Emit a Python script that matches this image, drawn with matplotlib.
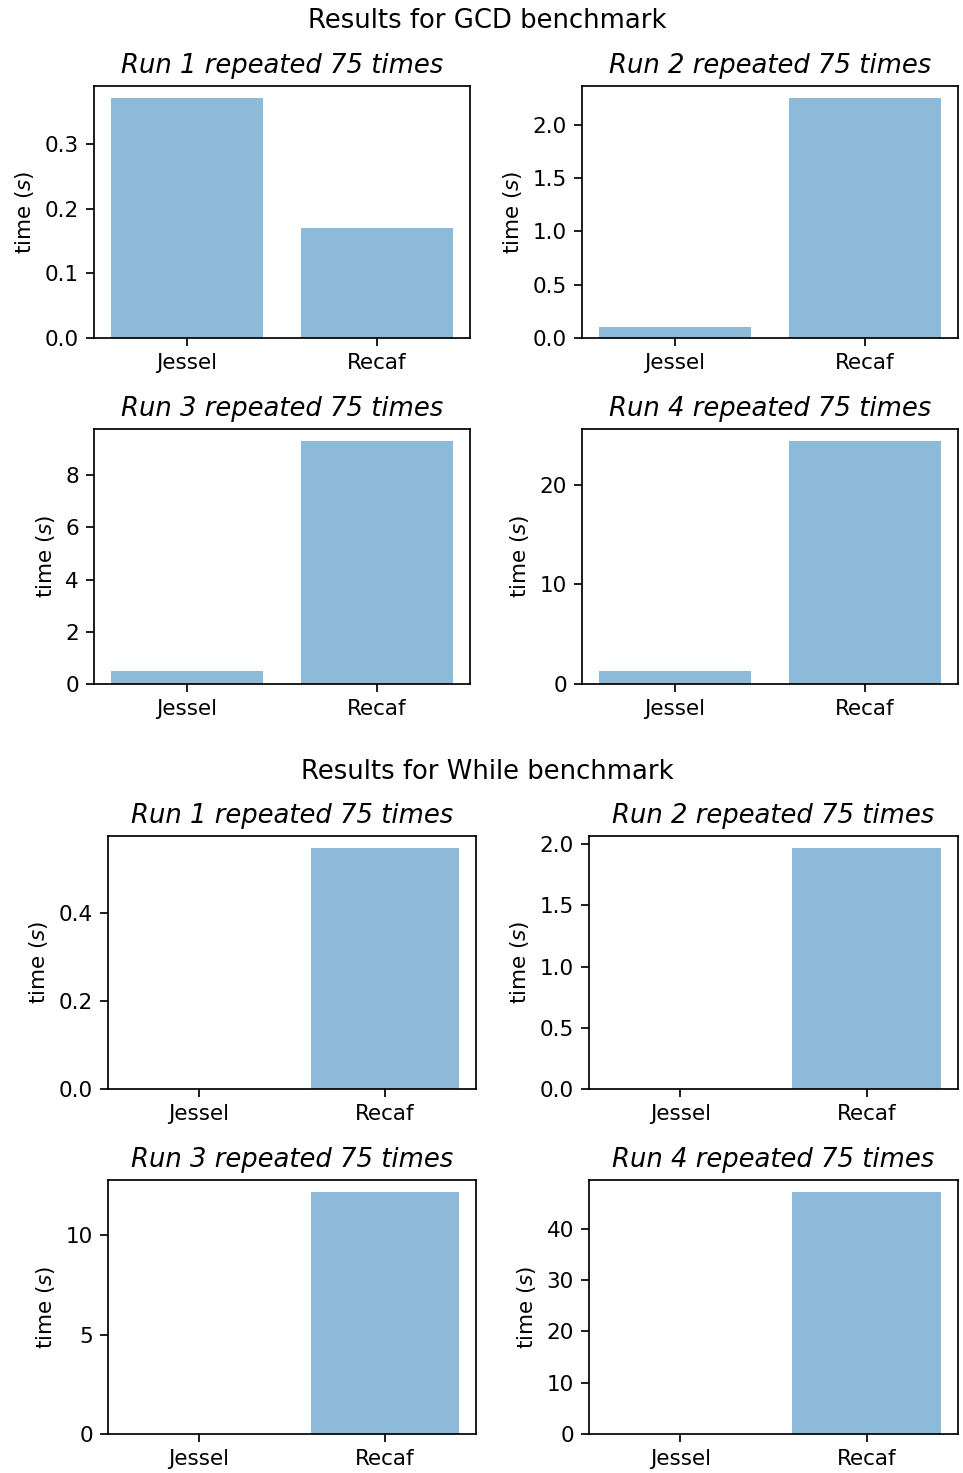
import matplotlib
matplotlib.use("Agg")
import matplotlib.pyplot as plt

tools = ["Jessel", "Recaf"]
runs = [1, 2, 3, 4]
repeats = 75

# mean time per run, seconds: [Jessel, Recaf]
gcd_times = [
    [0.371, 0.170],
    [0.104, 2.25],
    [0.51, 9.31],
    [1.34, 24.4],
]
while_times = [
    [0.0, 0.547],
    [0.0, 1.967],
    [0.0, 12.16],
    [0.0, 47.2],
]

W, H = 963, 1473
DPI = 155


def px_axes(fig, left, top, right, bottom):
    return fig.add_axes([left / W, 1 - bottom / H, (right - left) / W, (bottom - top) / H])


def draw_block(fig, name, times, boxes, title_y):
    fig.text(487 / W, 1 - title_y / H, f"Results for {name} benchmark",
             ha="center", va="center", fontsize=12)
    for run, vals, box in zip(runs, times, boxes):
        ax = px_axes(fig, *box)
        ax.bar(tools, vals, alpha=0.5)
        ax.set_title(f"Run {run} repeated {repeats} times", fontstyle="italic", fontsize=12)
        ax.set_ylabel("time ($s$)")


fig = plt.figure(figsize=(W / DPI, H / DPI), dpi=DPI)

gcd_boxes = [
    (94, 86, 470, 338),
    (582, 86, 958, 338),
    (94, 429, 470, 684),
    (582, 429, 958, 684),
]
while_boxes = [
    (108, 836, 476, 1089),
    (589, 836, 958, 1089),
    (108, 1180, 476, 1434),
    (589, 1180, 958, 1434),
]

draw_block(fig, "GCD", gcd_times, gcd_boxes, 21)
draw_block(fig, "While", while_times, while_boxes, 772)

fig.savefig("out.png", dpi=DPI)
plt.close(fig)
